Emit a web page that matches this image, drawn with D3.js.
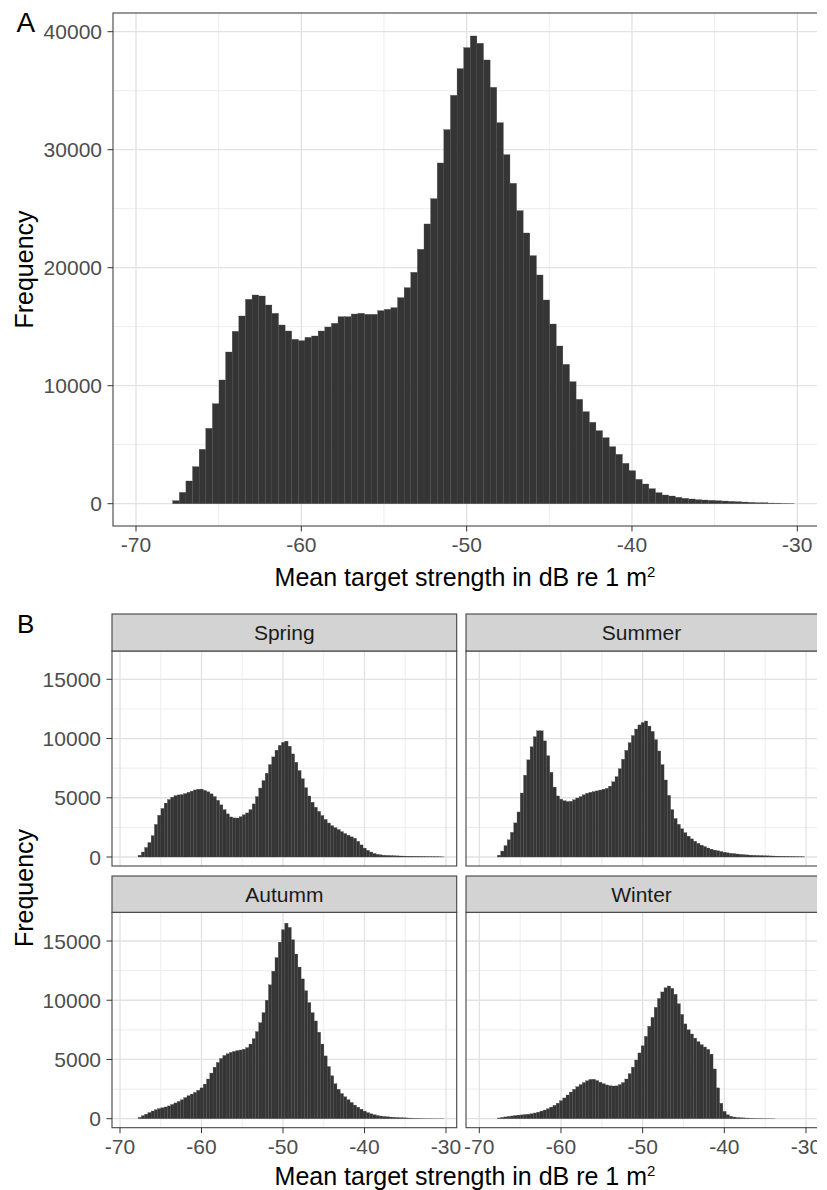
<!DOCTYPE html>
<html><head><meta charset="utf-8">
<script src="https://cdn.jsdelivr.net/npm/d3@7"></script>
<style>html,body{margin:0;padding:0;background:#fff}</style>
</head><body><div id="chart"></div>
<script>
// ---- data ----
const firstBin = -67.78;
const binWidth = 0.4;
const allValues = [257, 963, 1924, 3138, 4608, 6388, 8478, 10483, 12856, 14608,
 15907, 17320, 17687, 17602, 16839, 16134, 15145, 14636, 13930, 13817,
 14100, 14213, 14636, 14975, 15286, 15851, 15851, 16077, 16134, 16049,
 16049, 16360, 16473, 16613, 17461, 18309, 19609, 21558, 23705, 25852,
 28874, 31699, 34609, 36869, 38649, 39637, 39016, 37604, 35287, 32292,
 29580, 27151, 24834, 22942, 21021, 19382, 17263, 15229, 13365, 11811,
 10342, 8845, 7800, 6896, 6189, 5596, 4833, 4184, 3421, 2799,
 2065, 1669, 1274, 935, 737, 652, 540, 455, 398, 340,
 312, 283, 255, 226, 198, 170, 141, 113, 85, 85,
 56, 50, 35, 25];
const springValues = [150,420,800,1220,1800,2750,3520,4100,4550,4850,
 5050,5180,5240,5270,5350,5460,5560,5660,5720,5730,
 5620,5500,5330,5100,4780,4400,4000,3640,3380,3300,
 3290,3400,3560,3720,4000,4480,5100,5820,6450,7070,
 7800,8450,9020,9420,9680,9780,9350,8700,8000,7300,
 6600,5850,5150,4620,4200,3850,3500,3170,2870,2650,
 2480,2320,2140,1980,1840,1700,1580,1320,1020,750,
 560,420,300,220,180,150,135,120,108,95,
 85,78,70,64,58,54,48,42,36,30,
 26,20,14,8];
const summerValues = [150,500,960,1450,2080,2880,3800,5400,6900,8200,
 9300,10150,10650,10650,9800,8550,7150,5900,5150,4880,
 4750,4680,4700,4830,4980,5100,5250,5380,5460,5520,
 5580,5650,5720,5800,5980,6350,6780,7450,8250,9000,
 9650,10250,10800,11150,11350,11480,11050,10600,9900,8950,
 7800,6500,5200,4000,3250,2760,2380,2050,1760,1530,
 1330,1150,1000,880,760,660,580,520,460,400,
 350,310,280,250,220,195,175,158,145,132,
 120,108,98,90,82,74,66,60,54,48,
 40,32,24,15];
const autumnValues = [110,250,380,520,650,760,850,920,990,1080,
 1200,1330,1460,1600,1780,1940,2080,2220,2400,2600,
 2920,3350,3850,4350,4750,5080,5340,5480,5600,5680,
 5750,5800,5870,6000,6300,6750,7350,8100,8950,10000,
 11300,12450,13600,14900,15950,16500,16150,15100,13900,12800,
 11800,10800,9800,8950,8250,7300,6300,5300,4400,3620,
 2950,2480,2120,1850,1600,1370,1150,970,800,640,
 510,410,330,270,225,190,160,138,118,100,
 85,72,62,52,44,36,28,22,16,12,
 8,5,3,2];
const winterValues = [60,110,150,190,230,265,300,320,350,380,
 420,480,550,640,730,840,980,1130,1310,1520,
 1750,2000,2250,2480,2700,2880,3050,3200,3320,3330,
 3220,3080,2950,2850,2780,2760,2770,2880,3050,3350,
 3800,4350,4950,5550,6150,6950,7800,8550,9400,10150,
 10700,11050,11200,11000,10500,9700,8800,8000,7500,7150,
 6800,6500,6250,6050,5850,5450,4200,2600,1300,620,
 330,200,140,100,80,65,55,45,38,32,
 26,20,15,10,5,0,0,0,0,0,
 0,0,0,0];
const seasonNames = ["Spring", "Summer", "Autumm", "Winter"];
const xTickValues = [-70, -60, -50, -40, -30];
const xMinorValues = [-65, -55, -45, -35];
const yTicksA = [0, 10000, 20000, 30000, 40000];
const yMinorA = [5000, 15000, 25000, 35000];
const yTicksB = [0, 5000, 10000, 15000];
const yMinorB = [2500, 7500, 12500];
const xTitleText = "Mean target strength in dB re 1 m";
const yTitleText = "Frequency";

// ---- style / layout ----
const FONT = "'Liberation Sans', Arial, Helvetica, sans-serif";
const W = 827, H = 1190;
const svg = d3.select("#chart").append("svg").attr("width", W).attr("height", H)
  .style("font-family", FONT);
svg.append("rect").attr("width", W).attr("height", H).attr("fill", "#fff");
svg.append("clipPath").attr("id", "imgclip").append("rect")
  .attr("x", 0).attr("y", 0).attr("width", 817).attr("height", H);
const root = svg.append("g").attr("clip-path", "url(#imgclip)");

const TICK = 5.5, TICKFS = 21, TITLEFS = 25;

function drawPanel(p) {
  const g = root.append("g");
  const xs = d3.scaleLinear().domain([-70, -30]).range(p.xr);
  const ys = d3.scaleLinear().domain([0, p.yRef]).range(p.yr);
  g.append("rect").attr("x", p.left).attr("y", p.top)
    .attr("width", p.right - p.left).attr("height", p.bottom - p.top).attr("fill", "#fff");
  // minor grid
  g.selectAll(".mx").data(p.xMinor).join("line")
    .attr("x1", d => xs(d)).attr("x2", d => xs(d)).attr("y1", p.top).attr("y2", p.bottom)
    .attr("stroke", "#ebebeb").attr("stroke-width", 0.9);
  g.selectAll(".my").data(p.yMinor).join("line")
    .attr("y1", d => ys(d)).attr("y2", d => ys(d)).attr("x1", p.left).attr("x2", p.right)
    .attr("stroke", "#ebebeb").attr("stroke-width", 0.9);
  // major grid
  g.selectAll(".Mx").data(p.xMajor).join("line")
    .attr("x1", d => xs(d)).attr("x2", d => xs(d)).attr("y1", p.top).attr("y2", p.bottom)
    .attr("stroke", "#e2e2e2").attr("stroke-width", 1.3);
  g.selectAll(".My").data(p.yMajor).join("line")
    .attr("y1", d => ys(d)).attr("y2", d => ys(d)).attr("x1", p.left).attr("x2", p.right)
    .attr("stroke", "#e2e2e2").attr("stroke-width", 1.3);
  // bars
  const bins = p.values.map((v, k) => ({x0: firstBin + k * binWidth, x1: firstBin + (k + 1) * binWidth, v}))
    .filter(b => b.v > 0);
  g.append("g").selectAll("rect").data(bins).join("rect")
    .attr("x", b => xs(b.x0)).attr("width", b => xs(b.x1) - xs(b.x0))
    .attr("y", b => ys(b.v)).attr("height", b => ys(0) - ys(b.v))
    .attr("fill", "#353535").attr("stroke", "#484848").attr("stroke-width", 0.3);
  // border
  g.append("rect").attr("x", p.left).attr("y", p.top)
    .attr("width", p.right - p.left).attr("height", p.bottom - p.top)
    .attr("fill", "none").attr("stroke", "#444").attr("stroke-width", 1.1);
  if (p.showY) {
    g.selectAll(".yt").data(p.yMajor).join("line")
      .attr("x1", p.left - TICK).attr("x2", p.left).attr("y1", d => ys(d)).attr("y2", d => ys(d))
      .attr("stroke", "#333").attr("stroke-width", 1);
    g.selectAll(".yl").data(p.yMajor).join("text")
      .attr("x", p.left - TICK - 5.5).attr("y", d => ys(d) + 7.5)
      .attr("text-anchor", "end").attr("font-size", TICKFS).attr("fill", "#4d4d4d")
      .text(d => d);
  }
  if (p.showX) {
    g.selectAll(".xt").data(p.xMajor).join("line")
      .attr("x1", d => xs(d)).attr("x2", d => xs(d)).attr("y1", p.bottom).attr("y2", p.bottom + TICK)
      .attr("stroke", "#333").attr("stroke-width", 1);
    g.selectAll(".xl").data(p.xMajor).join("text")
      .attr("x", d => xs(d)).attr("y", p.bottom + 25.8)
      .attr("text-anchor", "middle").attr("font-size", TICKFS).attr("fill", "#4d4d4d")
      .text(d => d);
  }
  if (p.strip) {
    g.append("rect").attr("x", p.left).attr("y", p.strip[0])
      .attr("width", p.right - p.left).attr("height", p.strip[1] - p.strip[0])
      .attr("fill", "#d3d3d3").attr("stroke", "#444").attr("stroke-width", 1.1);
    g.append("text").attr("x", p.stripCx).attr("y", (p.strip[0] + p.strip[1]) / 2 + 7.7)
      .attr("text-anchor", "middle").attr("font-size", 21).attr("fill", "#1a1a1a")
      .text(p.label);
  }
}

function xTitle(cx, baseline) {
  const t = root.append("text").attr("x", cx).attr("y", baseline)
    .attr("text-anchor", "middle").attr("font-size", TITLEFS).attr("fill", "#000");
  t.append("tspan").text(xTitleText);
  t.append("tspan").attr("font-size", 15).attr("dy", -9).text("2");
}
function yTitle(x, cy) {
  root.append("text").attr("transform", `translate(${x},${cy}) rotate(-90)`)
    .attr("text-anchor", "middle").attr("font-size", TITLEFS).attr("fill", "#000")
    .text(yTitleText);
}

// Panel A
drawPanel({left: 113, right: 822, top: 13, bottom: 526, xr: [136, 797.3],
  yRef: 40000, yr: [503.7, 31.7], xMajor: xTickValues, xMinor: xMinorValues,
  yMajor: yTicksA, yMinor: yMinorA, values: allValues, showX: true, showY: true});
xTitle(465, 585.7);
yTitle(33, 269.5);
root.append("text").attr("x", 16.5).attr("y", 31.7).attr("font-size", 28).attr("fill", "#000").text("A");

// Panel B facets
const seasonSeries = [springValues, summerValues, autumnValues, winterValues];
const cols = [
  {left: 112, right: 456.7, xr: [120, 446], cx: 284.3},
  {left: 466, right: 822, xr: [479.3, 806], cx: 641.5}
];
const rows = [
  {strip: [614, 651], top: 651, bottom: 866, yr: [857, 679.3]},
  {strip: [876, 912.3], top: 912.3, bottom: 1127.7, yr: [1118.7, 941]}
];
seasonNames.forEach((name, i) => {
  const c = cols[i % 2], r = rows[Math.floor(i / 2)];
  drawPanel({left: c.left, right: c.right, top: r.top, bottom: r.bottom, xr: c.xr,
    yRef: 15000, yr: r.yr, xMajor: xTickValues, xMinor: xMinorValues,
    yMajor: yTicksB, yMinor: yMinorB, values: seasonSeries[i],
    showX: Math.floor(i / 2) === 1, showY: i % 2 === 0,
    strip: r.strip, stripCx: c.cx, label: name});
});
xTitle(465, 1185);
yTitle(33, 888);
root.append("text").attr("x", 17).attr("y", 633.3).attr("font-size", 26).attr("fill", "#000").text("B");
</script>
</body></html>
